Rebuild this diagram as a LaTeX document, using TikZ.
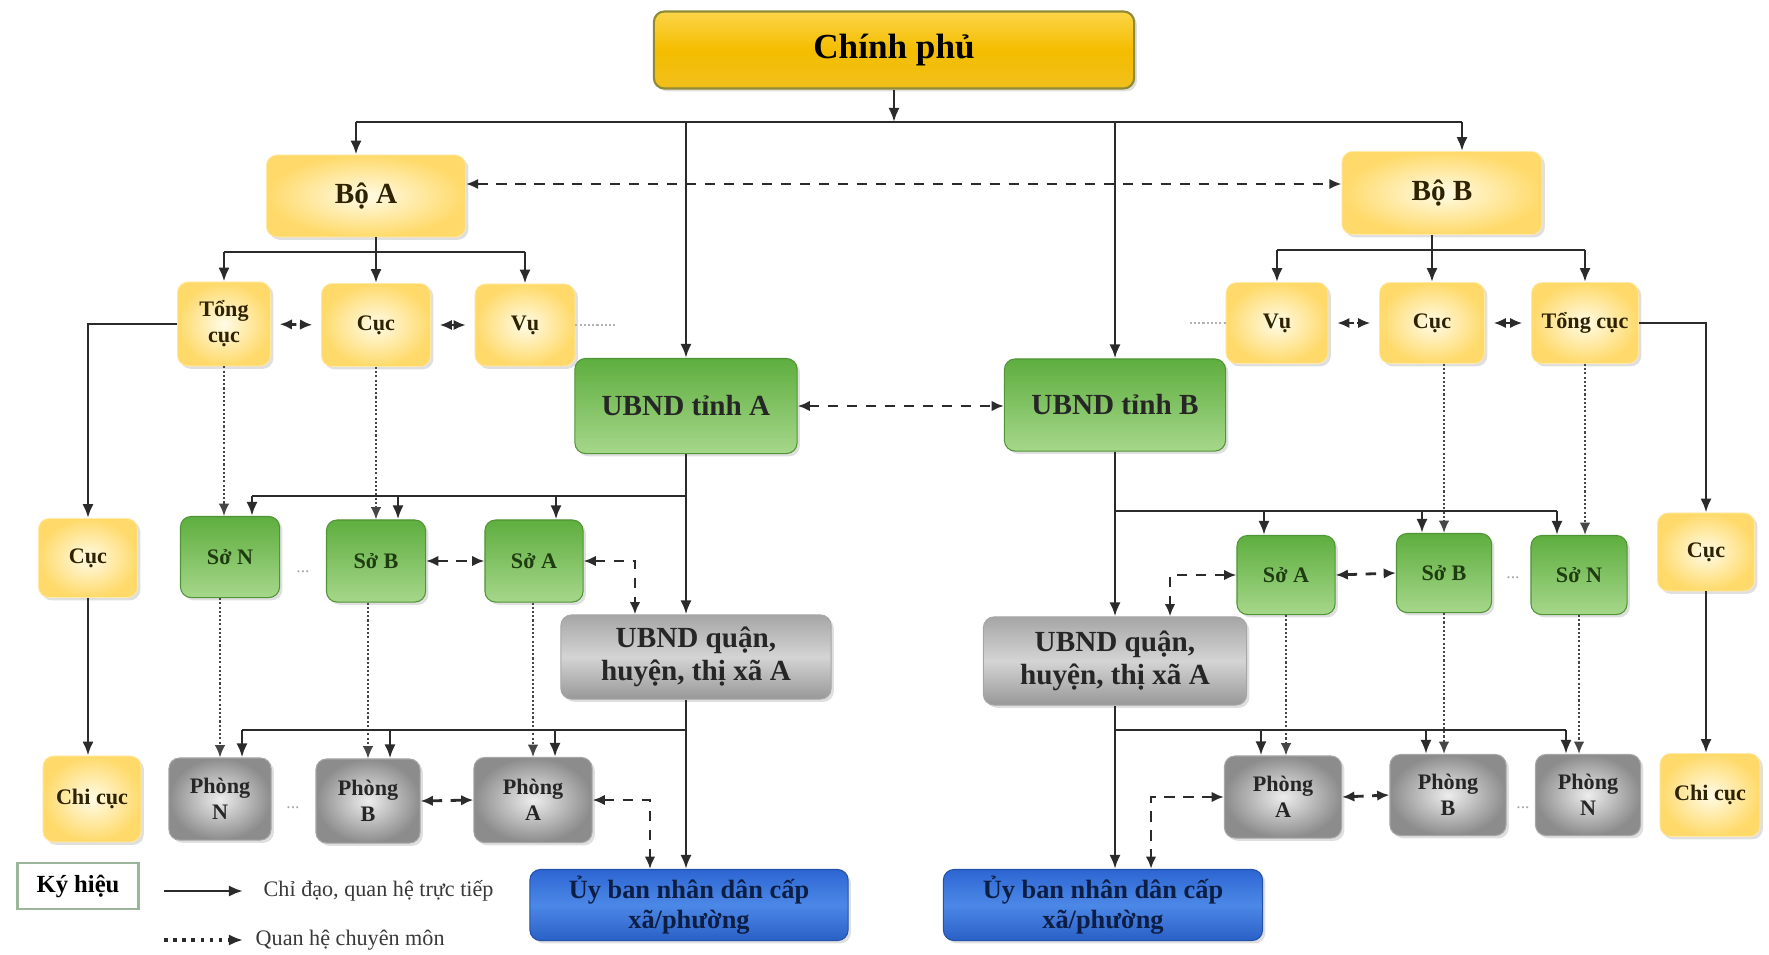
\documentclass[tikz,border=0pt]{standalone}
\usepackage{fontspec}
\setmainfont{Liberation Serif}
\usetikzlibrary{arrows.meta,shadows}

\definecolor{govTop}{HTML}{FCD548}
\definecolor{govMid}{HTML}{F4BD00}
\definecolor{govBot}{HTML}{F0C01C}
\definecolor{govEdge}{HTML}{8E8A36}
\definecolor{yelIn}{HTML}{FFFBE6}
\definecolor{yelOut}{HTML}{FFDA6A}
\definecolor{yelInk}{HTML}{2E2200}
\definecolor{grnTop}{HTML}{5EAE3F}
\definecolor{grnBot}{HTML}{A6D78A}
\definecolor{grnInk}{HTML}{1E3C10}
\definecolor{gryTop}{HTML}{A6A6A6}
\definecolor{gryMid}{HTML}{D4D4D4}
\definecolor{gryBot}{HTML}{989898}
\definecolor{gryIn}{HTML}{EDEDED}
\definecolor{gryOut}{HTML}{8C8C8C}
\definecolor{gryInk}{HTML}{262626}
\definecolor{bluTop}{HTML}{2D66D2}
\definecolor{bluMid}{HTML}{4C88E7}
\definecolor{bluBot}{HTML}{2A60C6}
\definecolor{bluInk}{HTML}{0D1E45}
\definecolor{inkLine}{HTML}{2B2B2B}
\definecolor{keyEdge}{HTML}{9DB59A}

\tikzset{
    box/.style={rounded corners=3pt, align=center, inner sep=1pt, font=\bfseries,
        drop shadow={opacity=.25, shadow xshift=.8pt, shadow yshift=-.8pt}},
    govbox/.style={box, draw=govEdge, line width=.6pt, top color=govTop, bottom color=govBot,
        middle color=govMid, text=black, font=\bfseries\fontsize{10}{12}\selectfont},
    yelbox/.style={box, draw=yelOut!60!white, line width=.2pt, inner color=yelIn, outer color=yelOut, text=yelInk},
    grnbox/.style={box, draw=grnTop!85!black, line width=.3pt, top color=grnTop, bottom color=grnBot, text=grnInk},
    grybox/.style={box, draw=gray!70, line width=.3pt, top color=gryTop, bottom color=gryBot,
        middle color=gryMid, text=gryInk},
    phbox/.style={box, draw=gray!70, line width=.3pt, inner color=gryIn, outer color=gryOut, text=gryInk},
    blubox/.style={box, draw=bluTop!80!black, line width=.3pt, top color=bluTop, bottom color=bluBot,
        middle color=bluMid, text=bluInk, font=\bfseries\fontsize{7.5}{8.6}\selectfont},
    midtxt/.style={font=\bfseries\fontsize{8.3}{9.4}\selectfont},
    smltxt/.style={font=\bfseries\fontsize{6.3}{7.4}\selectfont},
    dline/.style={draw=inkLine, line width=.8pt},
    darrow/.style={dline, -{Latex[length=4pt,width=3.2pt]}},
    peer/.style={draw=inkLine, line width=.8pt, dash pattern=on 3pt off 2.4pt,
        {Latex[length=3.5pt,width=3pt]}-{Latex[length=3.5pt,width=3pt]}},
    peerS/.style={peer, dash pattern=on 1.6pt off 1pt, shorten <=2.5pt, shorten >=2.5pt},
    prof/.style={draw=gray!55!black, line width=.5pt, dash pattern=on .6pt off .6pt,
        -{Latex[length=3.5pt,width=3pt]}},
    trail/.style={draw=gray!60, line width=.5pt, dash pattern=on .6pt off .6pt},
    keydot/.style={draw=inkLine, line width=.9pt, dash pattern=on 1pt off 1.6pt,
        -{Latex[length=4pt,width=3.2pt]}},
    ellip/.style={text=gray!70, font=\fontsize{5}{5}\selectfont, inner sep=0pt},
    keytxt/.style={anchor=west, inner sep=0pt, text=gray!45!black, font=\fontsize{6.3}{7}\selectfont}
}

\begin{document}
\begin{tikzpicture}[x=0.01cm, y=-0.01cm]
    \useasboundingbox (0,0) rectangle (1769,954);

    \node[govbox, minimum width=4.8cm, minimum height=.77cm] (cp) at (894,50) {Chính phủ};
    \node[yelbox, midtxt, minimum width=1.99cm, minimum height=.82cm] (boA) at (366,196) {Bộ A};
    \node[yelbox, midtxt, minimum width=2cm, minimum height=.83cm] (boB) at (1442,193) {Bộ B};
    \node[grnbox, midtxt, text=black!85, minimum width=2.22cm, minimum height=.95cm] (tA) at (686,406) {UBND tỉnh A};
    \node[grnbox, midtxt, text=black!85, minimum width=2.21cm, minimum height=.92cm] (tB) at (1115,405) {UBND tỉnh B};

    \node[yelbox, smltxt, minimum width=.93cm, minimum height=.84cm] (tcA) at (224,324) {Tổng\\cục};
    \node[yelbox, smltxt, minimum width=1.09cm, minimum height=.83cm] (cuA) at (376,325) {Cục};
    \node[yelbox, smltxt, minimum width=1cm, minimum height=.82cm] (vuA) at (525,325) {Vụ};
    \node[yelbox, smltxt, minimum width=1.02cm, minimum height=.81cm] (vuB) at (1277,323) {Vụ};
    \node[yelbox, smltxt, minimum width=1.05cm, minimum height=.81cm] (cuB) at (1432,323) {Cục};
    \node[yelbox, smltxt, minimum width=1.07cm, minimum height=.81cm] (tcB) at (1585,323) {Tổng cục};

    \node[yelbox, smltxt, minimum width=.99cm, minimum height=.79cm] (cL) at (88,558) {Cục};
    \node[yelbox, smltxt, minimum width=.98cm, minimum height=.86cm] (ccL) at (92,799) {Chi cục};
    \node[yelbox, smltxt, minimum width=.97cm, minimum height=.78cm] (cR) at (1706,552) {Cục};
    \node[yelbox, smltxt, minimum width=1cm, minimum height=.83cm] (ccR) at (1710,795) {Chi cục};

    \node[grnbox, smltxt, minimum width=.99cm, minimum height=.81cm] (sNA) at (230,557) {Sở N};
    \node[grnbox, smltxt, minimum width=.99cm, minimum height=.82cm] (sBA) at (376,561) {Sở B};
    \node[grnbox, smltxt, minimum width=.98cm, minimum height=.82cm] (sAA) at (534,561) {Sở A};
    \node[grnbox, smltxt, minimum width=.98cm, minimum height=.79cm] (sAB) at (1286,575) {Sở A};
    \node[grnbox, smltxt, minimum width=.95cm, minimum height=.79cm] (sBB) at (1444,573) {Sở B};
    \node[grnbox, smltxt, minimum width=.96cm, minimum height=.79cm] (sNB) at (1579,575) {Sở N};

    \node[grybox, midtxt, minimum width=2.7cm, minimum height=.84cm] (qA) at (696,657) {UBND quận,\\huyện, thị xã A};
    \node[grybox, midtxt, minimum width=2.63cm, minimum height=.88cm] (qB) at (1115,661) {UBND quận,\\huyện, thị xã A};

    \node[phbox, smltxt, minimum width=1.02cm, minimum height=.82cm] (pNA) at (220,799) {Phòng\\N};
    \node[phbox, smltxt, minimum width=1.04cm, minimum height=.84cm] (pBA) at (368,801) {Phòng\\B};
    \node[phbox, smltxt, minimum width=1.18cm, minimum height=.85cm] (pAA) at (533,800) {Phòng\\A};
    \node[phbox, smltxt, minimum width=1.17cm, minimum height=.82cm] (pAB) at (1283,797) {Phòng\\A};
    \node[phbox, smltxt, minimum width=1.16cm, minimum height=.81cm] (pBB) at (1448,795) {Phòng\\B};
    \node[phbox, smltxt, minimum width=1.05cm, minimum height=.81cm] (pNB) at (1588,795) {Phòng\\N};

    \node[blubox, minimum width=3.18cm, minimum height=.71cm] (uA) at (689,905) {Ủy ban nhân dân cấp\\xã/phường};
    \node[blubox, minimum width=3.19cm, minimum height=.71cm] (uB) at (1103,905) {Ủy ban nhân dân cấp\\xã/phường};

    \node[ellip] (e1) at (303,572) {...};
    \node[ellip] (e2) at (293,808) {...};
    \node[ellip] (e3) at (1513,578) {...};
    \node[ellip] (e4) at (1523,808) {...};

    \coordinate (tbus) at (894,122);
    \coordinate (bbusA) at (376,252);
    \coordinate (bbusB) at (1432,250);
    \coordinate (sbusA) at (686,496);
    \coordinate (pbusA) at (686,730);
    \coordinate (sbusB) at (1115,511);
    \coordinate (pbusB) at (1115,730);

    \draw[darrow] (cp.south) -- (cp.south |- tbus);
    \draw[dline] ([xshift=-1mm]boA.north |- tbus) -- ([xshift=2mm]boB.north |- tbus);
    \draw[darrow] ([xshift=-1mm]boA.north |- tbus) -- ([xshift=-1mm]boA.north);
    \draw[darrow] ([xshift=2mm]boB.north |- tbus) -- ([xshift=2mm]boB.north);
    \draw[darrow] (tA.north |- tbus) -- (tA.north);
    \draw[darrow] (tB.north |- tbus) -- (tB.north);
    \draw[peer] ([yshift=1.2mm]boA.east) -- ([yshift=1.2mm]boA.east -| boB.west);
    \draw[peer] (tA.east) -- (tA.east -| tB.west);

    \draw[darrow] (cuA.north |- boA.south) -- (cuA.north);
    \draw[dline] (tcA.north |- bbusA) -- (vuA.north |- bbusA);
    \draw[darrow] (tcA.north |- bbusA) -- (tcA.north);
    \draw[darrow] (vuA.north |- bbusA) -- (vuA.north);
    \draw[peerS] (tcA.east) -- (cuA.west);
    \draw[peerS] (cuA.east) -- (vuA.west);
    \draw[trail] (vuA.east) -- ++(40,0);

    \draw[darrow] (cuB.north |- boB.south) -- (cuB.north);
    \draw[dline] (vuB.north |- bbusB) -- (tcB.north |- bbusB);
    \draw[darrow] (vuB.north |- bbusB) -- (vuB.north);
    \draw[darrow] (tcB.north |- bbusB) -- (tcB.north);
    \draw[peerS] (vuB.east) -- (cuB.west);
    \draw[peerS] (cuB.east) -- (tcB.west);
    \draw[trail] (vuB.west) -- ++(-36,0);

    \draw[darrow] (tcA.west) -| (cL.north);
    \draw[darrow] (cL.south) -- (cL.south |- ccL.north);
    \draw[darrow] (tcB.east) -| (cR.north);
    \draw[darrow] (cR.south) -- (cR.south |- ccR.north);

    \draw[prof] (tcA.south) -- (tcA.south |- sNA.north);
    \draw[prof] (cuA.south) -- (cuA.south |- sBA.north);
    \draw[prof] (sBB.north |- cuB.south) -- (sBB.north);
    \draw[prof] (tcB.south) -- (tcB.south |- sNB.north);
    \draw[prof] (pNA.north |- sNA.south) -- (pNA.north);
    \draw[prof] (pBA.north |- sBA.south) -- (pBA.north);
    \draw[prof] (pAA.north |- sAA.south) -- (pAA.north);
    \draw[prof] (sAB.south) -- (sAB.south |- pAB.north);
    \draw[prof] (sBB.south) -- (sBB.south |- pBB.north);
    \draw[prof] (sNB.south) -- (sNB.south |- pNB.north);

    \draw[darrow] (tA.south) -- (tA.south |- qA.north);
    \draw[dline] (sbusA) -- ([xshift=2.2mm]sNA.north |- sbusA);
    \draw[darrow] ([xshift=2.2mm]sNA.north |- sbusA) -- ([xshift=2.2mm]sNA.north);
    \draw[darrow] ([xshift=2.2mm]sBA.north |- sbusA) -- ([xshift=2.2mm]sBA.north);
    \draw[darrow] ([xshift=2.2mm]sAA.north |- sbusA) -- ([xshift=2.2mm]sAA.north);
    \draw[peer] (sBA.east) -- (sAA.west);
    \draw[peer] (sAA.east) -| ([xshift=-6.1mm]qA.north);

    \draw[darrow] (qA.south -| tA.south) -- (uA.north -| tA.south);
    \draw[dline] (pbusA) -- ([xshift=2.2mm]pNA.north |- pbusA);
    \draw[darrow] ([xshift=2.2mm]pNA.north |- pbusA) -- ([xshift=2.2mm]pNA.north);
    \draw[darrow] ([xshift=2.2mm]pBA.north |- pbusA) -- ([xshift=2.2mm]pBA.north);
    \draw[darrow] ([xshift=2.2mm]pAA.north |- pbusA) -- ([xshift=2.2mm]pAA.north);
    \draw[peer] (pBA.east) -- (pAA.west);
    \draw[peer] (pAA.east) -| ([xshift=-3.9mm]uA.north);

    \draw[darrow] (tB.south) -- (tB.south |- qB.north);
    \draw[dline] (sbusB) -- ([xshift=-2.2mm]sNB.north |- sbusB);
    \draw[darrow] ([xshift=-2.2mm]sAB.north |- sbusB) -- ([xshift=-2.2mm]sAB.north);
    \draw[darrow] ([xshift=-2.2mm]sBB.north |- sbusB) -- ([xshift=-2.2mm]sBB.north);
    \draw[darrow] ([xshift=-2.2mm]sNB.north |- sbusB) -- ([xshift=-2.2mm]sNB.north);
    \draw[peer] (sAB.east) -- (sBB.west);
    \draw[peer] (sAB.west) -| ([xshift=5.5mm]qB.north);

    \draw[darrow] (qB.south -| tB.south) -- (uB.north -| tB.south);
    \draw[dline] (pbusB) -- ([xshift=-2.2mm]pNB.north |- pbusB);
    \draw[darrow] ([xshift=-2.2mm]pAB.north |- pbusB) -- ([xshift=-2.2mm]pAB.north);
    \draw[darrow] ([xshift=-2.2mm]pBB.north |- pbusB) -- ([xshift=-2.2mm]pBB.north);
    \draw[darrow] ([xshift=-2.2mm]pNB.north |- pbusB) -- ([xshift=-2.2mm]pNB.north);
    \draw[peer] (pAB.east) -- (pBB.west);
    \draw[peer] (pAB.west) -| ([xshift=4.8mm]uB.north);

    \node[draw=keyEdge, line width=.6pt, minimum width=1.21cm, minimum height=.39cm,
        font=\bfseries\fontsize{7}{8}\selectfont] (key) at (78,886) {Ký hiệu};
    \coordinate (k1s) at (164,891);
    \coordinate (k1e) at (243,891);
    \coordinate (k2s) at (164,940);
    \coordinate (k2e) at (243,940);
    \draw[darrow] (k1s) -- (k1e);
    \draw[keydot] (k2s) -- (k2e);
    \node[keytxt] (k1) at (263,891) {Chỉ đạo, quan hệ trực tiếp};
    \node[keytxt] (k2) at (255,940) {Quan hệ chuyên môn};
\end{tikzpicture}
\end{document}
